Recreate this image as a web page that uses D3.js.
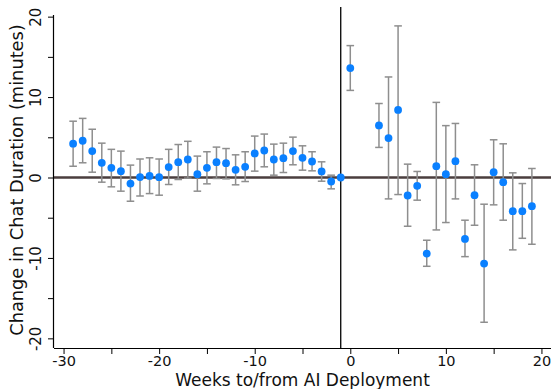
<!DOCTYPE html>
<html>
<head>
<meta charset="utf-8">
<script src="https://cdn.jsdelivr.net/npm/d3@7"></script>
<style>
  html, body { margin: 0; padding: 0; background: #fff; }
  svg { display: block; font-family: "DejaVu Sans", sans-serif; }
</style>
</head>
<body>
<svg id="chart" width="552" height="389"></svg>
<script>
// Event-study estimates: weeks relative to AI deployment (week -1 is the reference week)
const weeks = [
  -29, -28, -27, -26, -25, -24, -23, -22, -21, -20,
  -19, -18, -17, -16, -15, -14, -13, -12, -11, -10,
  -9, -8, -7, -6, -5, -4, -3, -2, -1,
  0, 3, 4, 5, 6, 7, 8, 9, 10, 11, 12, 13, 14, 15, 16, 17, 18, 19
];
// Point estimates (minutes)
const estimates = [
  4.2, 4.57, 3.28, 1.83, 1.2, 0.79, -0.75, 0.05, 0.2, 0.04,
  1.3, 1.9, 2.24, 0.41, 1.2, 1.9, 1.78, 0.95, 1.33, 2.99,
  3.36, 2.24, 2.4, 3.28, 2.45, 1.99, 0.75, -0.5, 0,
  13.6, 6.48, 4.9, 8.4, -2.24, -1.04, -9.46, 1.41, 0.41, 2.03, -7.64, -2.2, -10.7, 0.66, -0.58, -4.19, -4.19, -3.57
];
// Lower and upper bounds of the confidence intervals (null for the reference week)
const ciLow = [
  1.4, 1.83, 0.66, -0.58, -1.16, -1.7, -2.95, -2.3, -2.0, -2.2,
  -0.87, -0.25, -0.08, -1.7, -0.79, -0.12, -0.17, -0.91, -0.5, 0.79,
  1.33, 0.29, 0.62, 1.58, 0.91, 0.83, -0.46, -1.41, null,
  10.83, 3.74, -2.66, -2.12, -6.06, -2.82, -11.04, -6.52, -5.6, -2.66, -9.84, -5.94, -18.0, -3.4, -5.31, -9.0, -7.56, -8.3
];
const ciHigh = [
  7.0, 7.35, 6.0, 4.27, 3.5, 3.28, 1.54, 2.3, 2.45, 2.3,
  3.5, 4.1, 4.5, 2.66, 3.2, 3.78, 3.6, 2.82, 3.2, 5.15,
  5.4, 4.15, 4.27, 5.02, 3.94, 3.2, 1.95, 0.29, null,
  16.4, 9.2, 12.5, 18.85, 1.66, 0.75, -7.8, 9.34, 6.45, 6.72, -5.31, 1.58, -3.32, 4.69, 4.19, 0.58, -0.75, 1.12
];
const xTicks = [-30, -25, -20, -15, -10, -5, 0, 5, 10, 15, 20];
const xTickLabels = [-30, -20, -10, 0, 10, 20];
const yTicks = [-20, -15, -10, -5, 0, 5, 10, 15, 20];
const yTickLabels = [-20, -10, 0, 10, 20];
const referenceWeek = -1;
const xTitle = "Weeks to/from AI Deployment";
const yTitle = "Change in Chat Duration (minutes)";

const data = weeks.map((w, i) => ({ week: w, est: estimates[i], lo: ciLow[i], hi: ciHigh[i] }));

const svg = d3.select("#chart");
const plot = { left: 54, right: 551, top: 7, bottom: 348 };

const x = d3.scaleLinear().domain([-31, 21]).range([plot.left, plot.right]);
const y = d3.scaleLinear().domain([-21.2, 21.2]).range([plot.bottom, plot.top]);

const fmt = d => d3.format("d")(d).replace("\u2212", "-");

// Zero reference line
svg.append("line")
  .attr("x1", plot.left).attr("x2", plot.right)
  .attr("y1", y(0)).attr("y2", y(0))
  .attr("stroke", "#4a3e3e").attr("stroke-width", 2.6);

// Deployment marker
svg.append("line")
  .attr("x1", x(referenceWeek)).attr("x2", x(referenceWeek))
  .attr("y1", plot.top).attr("y2", plot.bottom)
  .attr("stroke", "#000").attr("stroke-width", 1.3);

// X axis
const xAxis = d3.axisBottom(x)
  .tickValues(xTicks)
  .tickSize(6)
  .tickPadding(2)
  .tickFormat(d => xTickLabels.includes(d) ? fmt(d) : "");
const gx = svg.append("g")
  .attr("transform", `translate(0,${plot.bottom})`)
  .call(xAxis);
gx.select(".domain").attr("d", `M${plot.left},0.5H${plot.right}`).attr("stroke", "#000").attr("stroke-width", 1.2);
gx.selectAll(".tick line").attr("stroke", "#000");
gx.selectAll(".tick text")
  .attr("font-size", 14.5).attr("font-family", "DejaVu Sans").attr("fill", "#111");

// Y axis with vertical tick labels
const yAxis = d3.axisLeft(y)
  .tickValues(yTicks)
  .tickSize(6)
  .tickFormat(d => yTickLabels.includes(d) ? fmt(d) : "");
const gy = svg.append("g")
  .attr("transform", `translate(${plot.left},0)`)
  .call(yAxis);
gy.select(".domain").attr("d", `M-0.5,${y(20.2)}V${plot.bottom}`).attr("stroke", "#000").attr("stroke-width", 1.2);
gy.selectAll(".tick line").attr("stroke", "#000");
gy.selectAll(".tick text")
  .attr("font-size", 15).attr("font-family", "DejaVu Sans").attr("fill", "#111")
  .attr("x", null).attr("dy", null)
  .attr("text-anchor", "middle")
  .attr("transform", "translate(-13.5,0) rotate(-90)");

// Axis titles
svg.append("text")
  .attr("x", 302.5).attr("y", 386)
  .attr("text-anchor", "middle")
  .attr("font-size", 17).attr("fill", "#111")
  .text(xTitle);
svg.append("text")
  .attr("transform", "translate(23,180) rotate(-90)")
  .attr("text-anchor", "middle")
  .attr("font-size", 17.8).attr("fill", "#111")
  .text(yTitle);

// Confidence intervals
const ci = data.filter(d => d.lo !== null && d.hi !== null);
const capHalf = 3.8;
const bars = svg.append("g").attr("stroke", "#8e8e8e").attr("stroke-width", 1.5).attr("fill", "none");
bars.selectAll("line.stem").data(ci).join("line").attr("class", "stem")
  .attr("x1", d => x(d.week)).attr("x2", d => x(d.week))
  .attr("y1", d => y(d.lo)).attr("y2", d => y(d.hi));
bars.selectAll("line.caplo").data(ci).join("line").attr("class", "caplo")
  .attr("x1", d => x(d.week) - capHalf).attr("x2", d => x(d.week) + capHalf)
  .attr("y1", d => y(d.lo)).attr("y2", d => y(d.lo));
bars.selectAll("line.caphi").data(ci).join("line").attr("class", "caphi")
  .attr("x1", d => x(d.week) - capHalf).attr("x2", d => x(d.week) + capHalf)
  .attr("y1", d => y(d.hi)).attr("y2", d => y(d.hi));

// Point estimates
svg.append("g").selectAll("circle").data(data).join("circle")
  .attr("cx", d => x(d.week)).attr("cy", d => y(d.est))
  .attr("r", 3.9)
  .attr("fill", "#0a80ff");
</script>
</body>
</html>
